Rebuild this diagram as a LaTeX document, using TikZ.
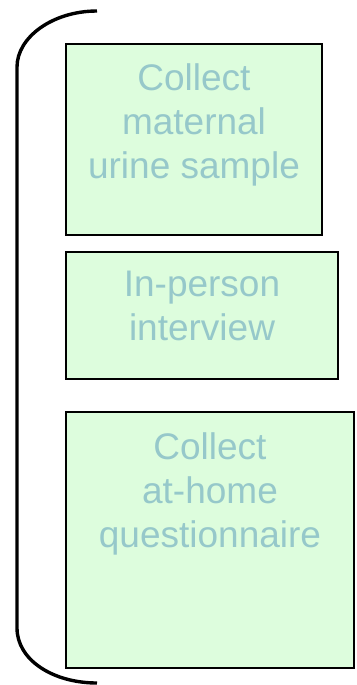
\documentclass[tikz,border=0pt]{standalone}
\usepackage{xcolor}
\usepackage{fontspec}
\setmainfont{Liberation Sans}
\usepackage{tikz}
\usetikzlibrary{positioning,calc}

\definecolor{boxfill}{RGB}{221,253,221}
\definecolor{boxtext}{RGB}{150,200,202}

\tikzset{
  stepbox/.style={draw=black,line width=2pt,fill=boxfill,rectangle,inner sep=0pt,anchor=north west},
  steptext/.style={text=boxtext,align=center,inner sep=0pt,anchor=north,
    font=\fontsize{37}{44}\selectfont}
}

\begin{document}
\begin{tikzpicture}[x=1pt,y=-1pt]
\useasboundingbox (0,0) rectangle (356,685);
% boxes
\node[stepbox,minimum width=256pt,minimum height=191pt] (urine) at (65,43) {};
\node[stepbox,minimum width=272pt,minimum height=127pt] (interview) at (65,251) {};
\node[stepbox,minimum width=288pt,minimum height=256pt] (questionnaire) at (65,411) {};
% texts
\node[steptext] (urinetext) at ($(urine.north)+(0,20)$) {Collect\\maternal\\urine sample};
\node[steptext] (interviewtext) at ($(interview.north)+(0,20)$) {In-person\\interview};
\node[steptext] (questiontext) at ($(questionnaire.north)+(0,21)$) {Collect\\at-home\\questionnaire};
% brace
\draw[line width=3.4pt] (97,11) .. controls (53,11) and (17,37) .. (17,67)
  -- (17,628) .. controls (17,660) and (53,683) .. (97,683);
\end{tikzpicture}
\end{document}
